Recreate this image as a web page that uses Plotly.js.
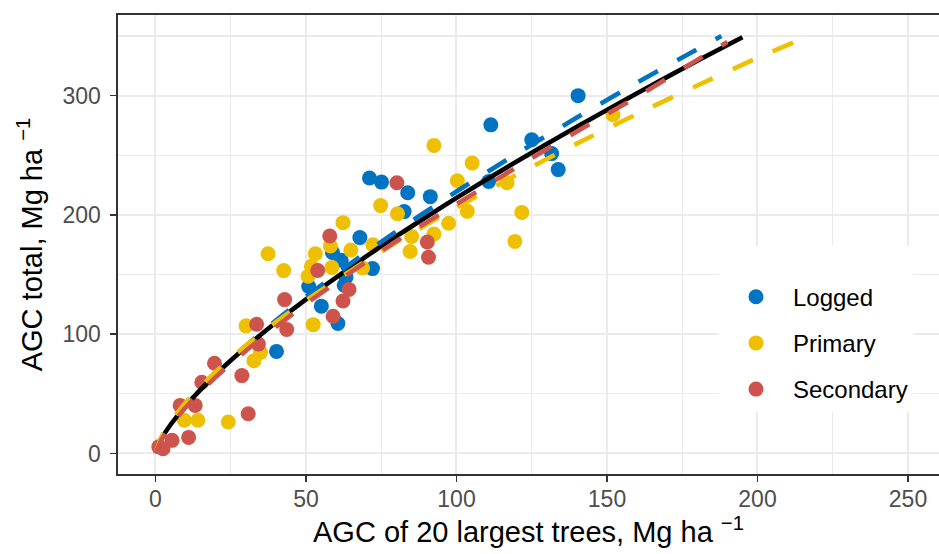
<!DOCTYPE html>
<html>
<head>
<meta charset="utf-8">
<script src="https://cdn.plot.ly/plotly-3.0.1.min.js"></script>
<style>
html,body{margin:0;padding:0;overflow:hidden;background:#fff;}
#chart{width:939px;height:554px;}
</style>
</head>
<body>
<div id="chart"></div>
<script>
// Scatter data (AGC of 20 largest trees vs AGC total)
const loggedX = [140.4, 111.4, 125, 131.6, 133.8, 110.7, 91.3, 71.1, 75.1, 83.8, 82.6, 67.9, 58.8, 61.7, 72.1, 63.3, 62.7, 50.9, 55.1, 60.6, 40.2];
const loggedY = [300, 275.5, 263, 251.4, 238, 228, 215.3, 231, 227.5, 218.6, 202.8, 181, 168.5, 162, 155, 148, 141, 140, 123.5, 109, 85.6];

const primaryX = [152, 92.5, 105.2, 100.3, 116.8, 103.6, 121.7, 97.4, 92.5, 119.4, 74.8, 80.4, 62.3, 85.1, 84.6, 53.1, 58.1, 64.9, 72.2, 51.8, 58.6, 68.8, 50.7, 52.4, 37.4, 42.6, 30.1, 34.9, 32.7, 9.6, 14.1, 24.2];
const primaryY = [284, 258.3, 243.5, 228.6, 227, 203, 202, 193, 184, 177.8, 207.8, 201, 193.5, 182, 169.3, 167.5, 174, 170.5, 175, 157, 156, 155.5, 148.6, 108, 167.5, 153.3, 107, 84.7, 77.8, 27.8, 27.8, 26.4];

const secondaryX = [80.2, 57.9, 90.3, 90.7, 53.9, 64.3, 62.3, 59, 42.9, 43.6, 33.6, 34.2, 28.7, 19.6, 15.4, 13.2, 8.2, 30.8, 11, 5.5, 2.5, 1.1];
const secondaryY = [227, 182.3, 177.3, 164.5, 153.5, 137.5, 127.8, 115, 129, 104, 108.3, 91.7, 65.3, 75.7, 59.7, 40.3, 40.3, 33.3, 13.5, 11, 4, 5.6];

// Fitted curves
const allFitX = [1.5, 5, 10, 20, 30, 40, 50, 65, 80, 100, 120, 140, 160, 180, 195];
const allFitY = [11, 24.1, 39.9, 66.2, 89, 109.8, 129.2, 156.5, 182.1, 214.3, 244.8, 274, 302, 329.2, 348.9];

const loggedFitX = [0, 2, 5, 10, 20, 30, 40, 50, 65, 80, 100, 120, 140, 160, 188];
const loggedFitY = [0, 12.1, 23.9, 39.9, 66.7, 90.1, 111.5, 131.4, 159.6, 186.1, 219.6, 251.3, 281.6, 310.9, 350];

const primaryFitX = [0, 2, 5, 10, 20, 30, 40, 50, 65, 80, 100, 120, 140, 160, 180, 200, 218];
const primaryFitY = [0, 14.1, 26.5, 42.6, 68.5, 90.4, 110.1, 128.3, 153.5, 177.1, 206.3, 233.7, 259.8, 284.6, 308.5, 331.6, 351];

const secondaryFitX = [0, 2, 5, 10, 20, 30, 40, 50, 65, 80, 100, 120, 140, 160, 180, 190];
const secondaryFitY = [0, 11.5, 23, 38.5, 64, 86, 106, 125.5, 152, 178, 209, 240, 270, 299, 330, 345];

const groupNames = ["Logged", "Primary", "Secondary"];
const groupColors = ["#0073C2", "#EFC000", "#CD534C"];

const FONT = "Liberation Sans, Arial, Helvetica, sans-serif";

function pts(x, y, i) {
  return {
    type: "scatter", mode: "markers", x: x, y: y, name: groupNames[i],
    legendgroup: groupNames[i],
    marker: {color: groupColors[i], size: 15, line: {width: 0}},
    hoverinfo: "skip"
  };
}
function fit(x, y, color, dash) {
  return {
    type: "scatter", mode: "lines", x: x, y: y, showlegend: false,
    line: {color: color, width: 4.6, dash: dash, shape: "spline", smoothing: 0.6},
    hoverinfo: "skip"
  };
}

const traces = [
  pts(loggedX, loggedY, 0),
  pts(primaryX, primaryY, 1),
  pts(secondaryX, secondaryY, 2),
  fit(allFitX, allFitY, "#000000", "solid"),
  fit(loggedFitX, loggedFitY, groupColors[0], "22px,22px"),
  fit(primaryFitX, primaryFitY, groupColors[1], "22px,22px"),
  fit(secondaryFitX, secondaryFitY, groupColors[2], "22px,22px")
];

const axisCommon = {
  showgrid: true, gridcolor: "#ebebeb", gridwidth: 2,
  zeroline: false, showline: true, linecolor: "#333333", linewidth: 1.6,
  ticks: "outside", ticklen: 6, tickwidth: 1.6, tickcolor: "#333333",
  tickfont: {family: FONT, size: 23, color: "#4d4d4d"},
  fixedrange: true, automargin: false
};

const layout = {
  width: 939, height: 554,
  margin: {l: 118, r: 0, t: 15, b: 80},
  paper_bgcolor: "#ffffff", plot_bgcolor: "#ffffff",
  font: {family: FONT, color: "#000000"},
  showlegend: true,
  xaxis: Object.assign({}, axisCommon, {
    range: [-12.45, 260.3], tickvals: [0, 50, 100, 150, 200, 250], ticktext: ["0","50","100","150","200","250"],
    mirror: true,
    minor: {tickvals: [25, 75, 125, 175, 225], showgrid: true, gridcolor: "#ebebeb", gridwidth: 1.1, ticks: ""},
    ticklabelstandoff: -2,
    title: {text: "AGC of 20 largest trees, Mg ha <sup>−1</sup>", font: {family: FONT, size: 29, color: "#000"}, standoff: 9}
  }),
  yaxis: Object.assign({}, axisCommon, {
    range: [-17.2, 367.6], tickvals: [0, 100, 200, 300], ticktext: ["0","100","200","300"],
    mirror: false,
    minor: {tickvals: [50, 150, 250, 350], showgrid: true, gridcolor: "#ebebeb", gridwidth: 1.1, ticks: ""},
    ticklabelstandoff: 5,
    title: {text: "AGC total, Mg ha <sup>−1</sup>", font: {family: FONT, size: 29, color: "#000"}, standoff: 11}
  }),
  legend: {
    x: 0.732, y: 0.4967, xanchor: "left", yanchor: "top",
    bgcolor: "#ffffff", borderwidth: 0,
    font: {family: FONT, size: 24, color: "#000"},
    title: {text: " ", font: {family: FONT, size: 22, color: "#fff"}},
    traceorder: "grouped", tracegroupgap: 12,
    itemwidth: 64
  }
};

Plotly.newPlot("chart", traces, layout, {displayModeBar: false, staticPlot: true});
</script>
</body>
</html>
